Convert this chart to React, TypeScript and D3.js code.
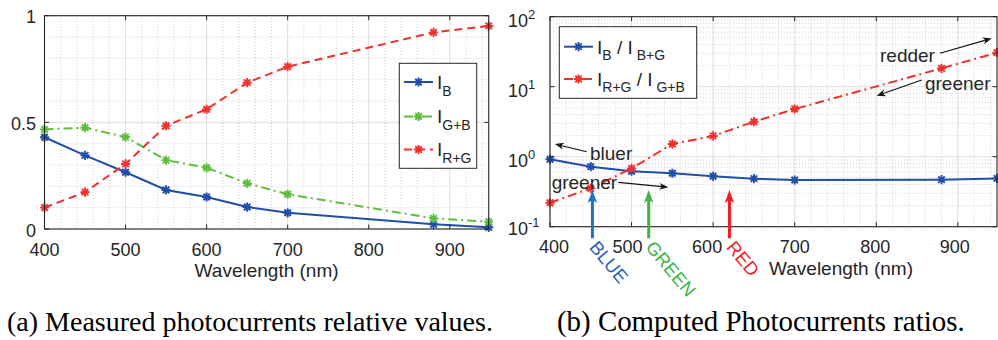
import React from 'react';
import * as d3 from 'd3';

// ---------- data ----------
const wavelengths = [400, 450, 500, 550, 600, 650, 700, 880, 948];
const iB = [0.43, 0.345, 0.266, 0.183, 0.15, 0.103, 0.076, 0.022, 0.008];
const iGB = [0.467, 0.475, 0.431, 0.323, 0.287, 0.214, 0.163, 0.05, 0.034];
const iRG = [0.1, 0.173, 0.305, 0.484, 0.561, 0.686, 0.761, 0.922, 0.952];
const ratioB = [0.92, 0.72, 0.62, 0.58, 0.525, 0.485, 0.465, 0.47, 0.49];
const ratioRG = [0.22, 0.353, 0.68, 1.52, 1.98, 3.16, 4.8, 18.3, 30.6];

const xTicks = [400, 500, 600, 700, 800, 900];
const yTicksLeft = [0, 0.5, 1];
const yTickLabelsLeft = ['0', '0.5', '1'];
const yTicksRight = [0.1, 1, 10, 100];
const yTickExpRight = ['-1', '0', '1', '2'];

const colorLabels = ['BLUE', 'GREEN', 'RED'];
const colorLabelWl = [452, 521, 620];

const captionA = '(a) Measured photocurrents relative values.';
const captionB = '(b) Computed Photocurrents ratios.';

// ---------- styles ----------
const F = '"Liberation Sans", Arial, Helvetica, sans-serif';
const SERIF = '"Liberation Serif", "Times New Roman", serif';
const INK = '#262626';
const C_BLUE = '#1f4fa8';
const C_GREEN = '#5cbf3c';
const C_RED = '#f0312f';
const GRID_MAJOR = '#dedede';
const GRID_MINOR = '#c8c8c8';
const DASH = '8,5';
const DASHDOT = '9,4,2,4';
// small label nudges seen in the right panel's x tick labels
const rightTickNudge: Record<number, number> = { 400: 4, 500: -4, 600: -6, 700: 0, 800: -1, 900: -3 };

const asterisk = (r: number) => {
  const a = r * 0.7071;
  return `M${-r},0L${r},0M0,${-r}L0,${r}M${-a},${-a}L${a},${a}M${-a},${a}L${a},${-a}`;
};

function arrow(x1: number, y1: number, x2: number, y2: number, L: number, W: number, notch: number) {
  const dx = x2 - x1, dy = y2 - y1;
  const len = Math.hypot(dx, dy);
  const ux = dx / len, uy = dy / len;
  const px = -uy, py = ux;
  const bx = x2 - ux * L, by = y2 - uy * L;
  const nx = x2 - ux * L * notch, ny = y2 - uy * L * notch;
  return {
    head: `M${x2},${y2}L${bx + (px * W) / 2},${by + (py * W) / 2}L${nx},${ny}L${bx - (px * W) / 2},${by - (py * W) / 2}Z`,
    line: `M${x1},${y1}L${nx},${ny}`,
  };
}

function Series({ xs, ys, x, y, color, dash }: any) {
  const pts = xs.map((w: number, i: number) => [x(w), y(ys[i])] as [number, number]);
  const line = d3.line()(pts) || '';
  return (
    <g>
      <path d={line} fill="none" stroke={color} strokeWidth={2} strokeDasharray={dash || undefined} />
      {pts.map((p: [number, number], i: number) => (
        <path key={i} d={asterisk(4.6)} transform={`translate(${p[0]},${p[1]})`} stroke={color} strokeWidth={1.9} fill="none" />
      ))}
    </g>
  );
}

function LegendSample({ x1, x2, y, color, dash }: any) {
  return (
    <g>
      <line x1={x1} x2={x2} y1={y} y2={y} stroke={color} strokeWidth={2} strokeDasharray={dash || undefined} />
      <path d={asterisk(4.6)} transform={`translate(${(x1 + x2) / 2},${y})`} stroke={color} strokeWidth={1.9} fill="none" />
    </g>
  );
}

function LeftChart() {
  const x = d3.scaleLinear().domain([400, 948]).range([44.5, 488.7]);
  const y = d3.scaleLinear().domain([0, 1]).range([229, 15.7]);
  const [x0, x1] = x.range();
  const [y0, y1] = y.range();
  const minorX = d3.range(420, 948, 20).filter((v) => v % 100 !== 0);
  const minorY = d3.range(1, 10).map((v) => v / 10).filter((v) => v !== 0.5);
  const tl = 4.5;
  const legend = [
    { c: C_BLUE, d: null, sub: 'B' },
    { c: C_GREEN, d: DASHDOT, sub: 'G+B' },
    { c: C_RED, d: DASH, sub: 'R+G' },
  ];
  const legY = [82, 116.5, 149.5];
  return (
    <g>
      {minorX.map((v) => (
        <line key={'mx' + v} x1={x(v)} x2={x(v)} y1={y0} y2={y1} stroke={GRID_MINOR} strokeWidth={0.8} strokeDasharray="1,2" />
      ))}
      {minorY.map((v) => (
        <line key={'my' + v} x1={x0} x2={x1} y1={y(v)} y2={y(v)} stroke={GRID_MINOR} strokeWidth={0.8} strokeDasharray="1,2" />
      ))}
      {xTicks.map((v) => (
        <line key={'gx' + v} x1={x(v)} x2={x(v)} y1={y0} y2={y1} stroke={GRID_MAJOR} strokeWidth={1} />
      ))}
      {yTicksLeft.map((v) => (
        <line key={'gy' + v} x1={x0} x2={x1} y1={y(v)} y2={y(v)} stroke={GRID_MAJOR} strokeWidth={1} />
      ))}
      <Series xs={wavelengths} ys={iB} x={x} y={y} color={C_BLUE} dash={null} />
      <Series xs={wavelengths} ys={iGB} x={x} y={y} color={C_GREEN} dash={DASHDOT} />
      <Series xs={wavelengths} ys={iRG} x={x} y={y} color={C_RED} dash={DASH} />
      <rect x={x0} y={y1} width={x1 - x0} height={y0 - y1} fill="none" stroke={INK} strokeWidth={1.1} />
      {xTicks.map((v) => (
        <g key={'tx' + v}>
          <line x1={x(v)} x2={x(v)} y1={y0} y2={y0 - tl} stroke={INK} />
          <line x1={x(v)} x2={x(v)} y1={y1} y2={y1 + tl} stroke={INK} />
          <text x={x(v)} y={256} textAnchor="middle" fontFamily={F} fontSize={18} fill={INK}>{v}</text>
        </g>
      ))}
      {yTicksLeft.map((v, i) => (
        <g key={'ty' + v}>
          <line x1={x0} x2={x0 + tl} y1={y(v)} y2={y(v)} stroke={INK} />
          <line x1={x1} x2={x1 - tl} y1={y(v)} y2={y(v)} stroke={INK} />
          <text x={36} y={y(v) + 7.5} textAnchor="end" fontFamily={F} fontSize={18} fill={INK}>{yTickLabelsLeft[i]}</text>
        </g>
      ))}
      <text x={(x0 + x1) / 2} y={277} textAnchor="middle" fontFamily={F} fontSize={19} fill={INK}>Wavelength (nm)</text>
      <rect x={399.3} y={63.3} width={77.4} height={105} fill="#fff" stroke={INK} strokeWidth={1} />
      {legend.map((l, i) => (
        <g key={'lg' + i}>
          <LegendSample x1={404} x2={433} y={legY[i]} color={l.c} dash={l.d} />
          <text x={437} y={legY[i] + 6.5} fontFamily={F} fontSize={19} fill={INK}>
            I<tspan fontSize={14} dy={7.2}>{l.sub}</tspan>
          </text>
        </g>
      ))}
    </g>
  );
}

function RightChart() {
  const x = d3.scaleLinear().domain([400, 948]).range([550, 997]);
  const y = d3.scaleLog().domain([0.1, 100]).range([226.7, 16.7]);
  const [x0, x1] = x.range();
  const [y0, y1] = y.range();
  const minorX = d3.range(420, 948, 20).filter((v) => v % 100 !== 0);
  const minorY: number[] = [];
  [0.1, 1, 10].forEach((d) => { for (let k = 2; k <= 9; k++) minorY.push(d * k); });
  const tl = 4.5;

  // annotations in data coordinates
  const notes = [
    { t: 'redder', tx: 804.6, ty: 22.5, a: [878, 30, 941.5, 49] },
    { t: 'greener', tx: 859.7, ty: 9.0, a: [855.7, 12.5, 800.5, 7.4] },
    { t: 'bluer', tx: 449, ty: 0.9, a: [445, 1.18, 406, 1.52] },
    { t: 'greener', tx: 402, ty: 0.346, a: [483.7, 0.43, 545, 0.366] },
  ];
  const colorArrows = [
    { arrow: '#1b74c4', text: '#2c5fb5' },
    { arrow: '#3db548', text: '#3db548' },
    { arrow: '#ee1f26', text: '#ee1f26' },
  ];
  const legY = [46.7, 79];
  return (
    <g>
      {minorX.map((v) => (
        <line key={'mx' + v} x1={x(v)} x2={x(v)} y1={y0} y2={y1} stroke={GRID_MINOR} strokeWidth={0.8} strokeDasharray="1,2" />
      ))}
      {minorY.map((v) => (
        <line key={'my' + v} x1={x0} x2={x1} y1={y(v)} y2={y(v)} stroke={GRID_MINOR} strokeWidth={0.8} strokeDasharray="1,2" />
      ))}
      {xTicks.map((v) => (
        <line key={'gx' + v} x1={x(v)} x2={x(v)} y1={y0} y2={y1} stroke={GRID_MAJOR} strokeWidth={1} />
      ))}
      {yTicksRight.map((v) => (
        <line key={'gy' + v} x1={x0} x2={x1} y1={y(v)} y2={y(v)} stroke={GRID_MAJOR} strokeWidth={1} />
      ))}
      <Series xs={wavelengths} ys={ratioB} x={x} y={y} color={C_BLUE} dash={null} />
      <Series xs={wavelengths} ys={ratioRG} x={x} y={y} color={C_RED} dash={DASHDOT} />
      <rect x={x0} y={y1} width={x1 - x0} height={y0 - y1} fill="none" stroke={INK} strokeWidth={1.1} />
      {xTicks.map((v) => (
        <g key={'tx' + v}>
          <line x1={x(v)} x2={x(v)} y1={y0} y2={y0 - tl} stroke={INK} />
          <line x1={x(v)} x2={x(v)} y1={y1} y2={y1 + tl} stroke={INK} />
          <text x={x(v) + (rightTickNudge[v] || 0)} y={253} textAnchor="middle" fontFamily={F} fontSize={18} fill={INK}>{v}</text>
        </g>
      ))}
      {yTicksRight.map((v, i) => (
        <g key={'ty' + v}>
          <line x1={x0} x2={x0 + tl} y1={y(v)} y2={y(v)} stroke={INK} />
          <line x1={x1} x2={x1 - tl} y1={y(v)} y2={y(v)} stroke={INK} />
          <text x={508} y={y(v) + (i === 0 ? 8.5 : 10)} fontFamily={F} fontSize={18} fill={INK}>
            10<tspan fontSize={13} dy={-8}>{yTickExpRight[i]}</tspan>
          </text>
        </g>
      ))}
      <text x={841} y={275} textAnchor="middle" fontFamily={F} fontSize={19} fill={INK}>Wavelength (nm)</text>

      {notes.map((n, i) => {
        const ar = arrow(x(n.a[0]), y(n.a[1]), x(n.a[2]), y(n.a[3]), 9, 7, 0.7);
        return (
          <g key={'n' + i}>
            <text x={x(n.tx)} y={y(n.ty)} fontFamily={F} fontSize={19} fill={INK}>{n.t}</text>
            <path d={ar.line} stroke="#111" strokeWidth={1.1} fill="none" />
            <path d={ar.head} fill="#111" />
          </g>
        );
      })}

      {colorLabels.map((lab, i) => {
        const ax = x(colorLabelWl[i]);
        const ar = arrow(ax, y0 + 11.5, ax, y(0.334), 13, 9.5, 0.75);
        return (
          <g key={'c' + i}>
            <path d={ar.line} stroke={colorArrows[i].arrow} strokeWidth={3} fill="none" />
            <path d={ar.head} fill={colorArrows[i].arrow} />
            <text transform={`translate(${ax - 4},${y0 + 21}) rotate(50)`} fontFamily={F} fontSize={18.5} fill={colorArrows[i].text}>{lab}</text>
          </g>
        );
      })}

      <rect x={559.3} y={26.7} width={137.4} height={71.6} fill="#fff" stroke={INK} strokeWidth={1} />
      <LegendSample x1={564} x2={593} y={legY[0]} color={C_BLUE} dash={null} />
      <text x={597} y={legY[0] + 7} fontFamily={F} fontSize={19} fill={INK} style={{ whiteSpace: 'pre' }}>
        I<tspan fontSize={14} dy={6}>B</tspan><tspan dy={-6}> / I</tspan><tspan fontSize={14} dy={6}> B+G</tspan>
      </text>
      <LegendSample x1={564} x2={593} y={legY[1]} color={C_RED} dash={DASHDOT} />
      <text x={597} y={legY[1] + 7} fontFamily={F} fontSize={19} fill={INK} style={{ whiteSpace: 'pre' }}>
        I<tspan fontSize={14} dy={6}>R+G</tspan><tspan dy={-6}> / I</tspan><tspan fontSize={14} dy={6}> G+B</tspan>
      </text>
    </g>
  );
}

export default function App() {
  return (
    <svg width={998} height={340} style={{ position: 'absolute', left: 0, top: 0, background: '#fff' }}>
      <rect width={998} height={340} fill="#fff" />
      <LeftChart />
      <RightChart />
      <text x={7} y={331} fontFamily={SERIF} fontSize={28} fill="#000">{captionA}</text>
      <text x={557} y={331} fontFamily={SERIF} fontSize={28.9} fill="#000">{captionB}</text>
    </svg>
  );
}
